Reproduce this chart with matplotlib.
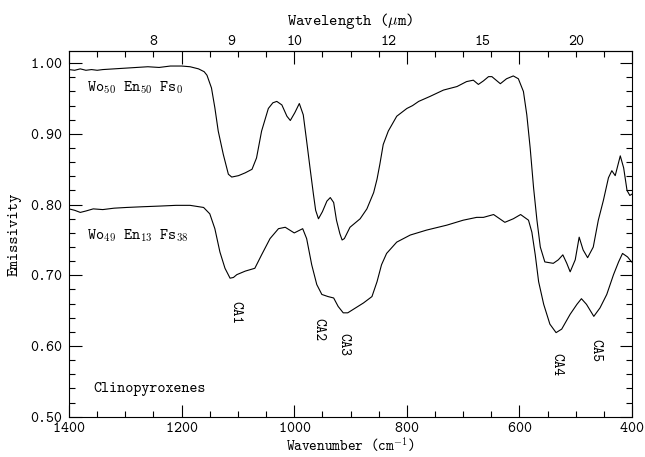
import numpy as np
import matplotlib
matplotlib.use("Agg")
import matplotlib.pyplot as plt
from matplotlib.ticker import MultipleLocator, FormatStrFormatter

plt.rcParams['font.family'] = ['cmtt10', 'DejaVu Serif']
plt.rcParams['mathtext.fontset'] = 'cm'
plt.rcParams['axes.formatter.use_mathtext'] = True

# Wo50 En50 Fs0 spectrum (wavenumber in cm^-1, emissivity)
wn_di = [1400, 1390, 1380, 1370, 1360, 1350, 1340, 1320, 1300, 1280, 1260, 1240,
         1220, 1200, 1185, 1170, 1160, 1155, 1147, 1141, 1135, 1126, 1117, 1111,
         1105, 1099, 1087, 1075, 1067, 1058, 1046, 1038, 1031, 1022, 1013, 1007,
         999, 991, 984, 978, 972, 966, 962, 957, 950, 942, 936, 930, 925, 919,
         915, 911, 901, 883, 871, 859, 853, 848, 842, 833, 818, 800, 790, 779,
         759, 735, 711, 694, 682, 673, 664, 655, 649, 640, 634, 623, 611, 602,
         593, 587, 581, 575, 569, 563, 555, 540, 531, 523, 516, 510, 501, 494,
         487, 479, 469, 460, 451, 442, 436, 430, 421, 415, 409, 404, 400]
em_di = [0.991, 0.990, 0.992, 0.990, 0.991, 0.990, 0.991, 0.992, 0.993, 0.994, 0.995, 0.994,
         0.996, 0.996, 0.995, 0.992, 0.988, 0.983, 0.965, 0.937, 0.904, 0.871, 0.843, 0.839,
         0.840, 0.841, 0.845, 0.850, 0.866, 0.904, 0.936, 0.944, 0.946, 0.941, 0.925, 0.919,
         0.930, 0.943, 0.927, 0.890, 0.852, 0.815, 0.792, 0.780, 0.790, 0.805, 0.810, 0.803, 0.778, 0.759,
         0.750, 0.752, 0.768, 0.780, 0.794, 0.817, 0.836, 0.857, 0.885, 0.904, 0.925, 0.936, 0.940, 0.946,
         0.953, 0.962, 0.967, 0.974, 0.976, 0.970, 0.975, 0.981, 0.981, 0.975, 0.971, 0.978, 0.982, 0.978,
         0.960, 0.927, 0.880, 0.824, 0.778, 0.740, 0.719, 0.717, 0.722, 0.729, 0.717, 0.705, 0.722, 0.754,
         0.736, 0.725, 0.740, 0.778, 0.806, 0.838, 0.848, 0.841, 0.869, 0.852, 0.820, 0.813, 0.815]

# Wo49 En13 Fs38 spectrum
wn_hd = [1400, 1390, 1380, 1370, 1357, 1340, 1320, 1298, 1270, 1238, 1210, 1185,
         1161, 1150, 1141, 1132, 1123, 1114, 1108, 1102, 1087, 1070, 1058, 1043,
         1028, 1016, 1000, 985, 978, 969, 960, 951, 940, 930, 922, 913, 905, 895,
         877, 862, 853, 845, 836, 818, 794, 765, 729, 700, 676, 664, 646, 626,
         611, 598, 584, 578, 572, 566, 557, 546, 535, 525, 510, 498, 490, 481,
         468, 457, 445, 433, 424, 417, 408, 401]
em_hd = [0.794, 0.792, 0.789, 0.791, 0.794, 0.793, 0.795, 0.796, 0.797, 0.798, 0.799, 0.799,
         0.796, 0.787, 0.766, 0.733, 0.710, 0.696, 0.697, 0.701, 0.706, 0.710, 0.729, 0.752,
         0.766, 0.768, 0.760, 0.766, 0.752, 0.715, 0.687, 0.673, 0.670, 0.668, 0.656, 0.647, 0.647, 0.652,
         0.661, 0.670, 0.691, 0.715, 0.731, 0.747, 0.757, 0.764, 0.771, 0.778, 0.782, 0.782, 0.786, 0.775,
         0.780, 0.786, 0.778, 0.761, 0.729, 0.691, 0.659, 0.631, 0.619, 0.624, 0.645, 0.659, 0.667, 0.659,
         0.642, 0.654, 0.673, 0.701, 0.719, 0.731, 0.726, 0.719]

# band labels and where they sit
band_names = ["CA1", "CA2", "CA3", "CA4", "CA5"]
band_wn = [1105, 958, 912, 535, 466]
band_em = [0.647, 0.623, 0.602, 0.574, 0.594]

wavelength_ticks = [8, 9, 10, 12, 15, 20]

fig = plt.figure(figsize=(6.45, 4.57), dpi=100)
ax = fig.add_axes([0.107, 0.088, 0.873, 0.800])

ax.plot(wn_di, em_di, color='black', lw=0.8)
ax.plot(wn_hd, em_hd, color='black', lw=0.8)

ax.set_xlim(1400, 400)
ax.set_ylim(0.5, 1.017)

ax.xaxis.set_major_locator(MultipleLocator(200))
ax.xaxis.set_minor_locator(MultipleLocator(50))
ax.yaxis.set_major_locator(MultipleLocator(0.1))
ax.yaxis.set_minor_locator(MultipleLocator(0.02))
ax.yaxis.set_major_formatter(FormatStrFormatter('%.2f'))
ax.tick_params(which='both', direction='in', top=True, right=True, labelsize=11, width=0.8)
ax.tick_params(which='major', length=9, pad=5)
ax.tick_params(which='minor', length=4.5)
ax.tick_params(axis='x', which='major', pad=4)

ax.set_xlabel("Wavenumber (cm$^{-1}$)", fontsize=10.5)
ax.xaxis.set_label_coords(0.5, -0.053)
ax.set_ylabel("Emissivity", fontsize=11.5, labelpad=6)

# wavelength scale along the top
sec = ax.secondary_xaxis('top', functions=(lambda x: 1e4 / x, lambda x: 1e4 / x))
sec.set_xticks(wavelength_ticks)
sec.set_xticklabels([str(w) for w in wavelength_ticks])
sec.tick_params(which='both', length=0, pad=1.5, labelsize=11)
sec.xaxis.set_minor_locator(plt.NullLocator())
sec.set_xlabel("Wavelength ($\\mu$m)", fontsize=11.5, labelpad=7)

ax.text(1368, 0.966, "Wo$_{50}$ En$_{50}$ Fs$_{0}$", fontsize=11, va='center', ha='left')
ax.text(1368, 0.756, "Wo$_{49}$ En$_{13}$ Fs$_{38}$", fontsize=11, va='center', ha='left')
ax.text(1357, 0.539, "Clinopyroxenes", fontsize=11, va='center', ha='left')

for name, x, y in zip(band_names, band_wn, band_em):
    ax.text(x, y, name, fontsize=10.5, rotation=-90, ha='center', va='center')

for sp in ax.spines.values():
    sp.set_linewidth(0.8)

fig.savefig("out.png", dpi=100)
